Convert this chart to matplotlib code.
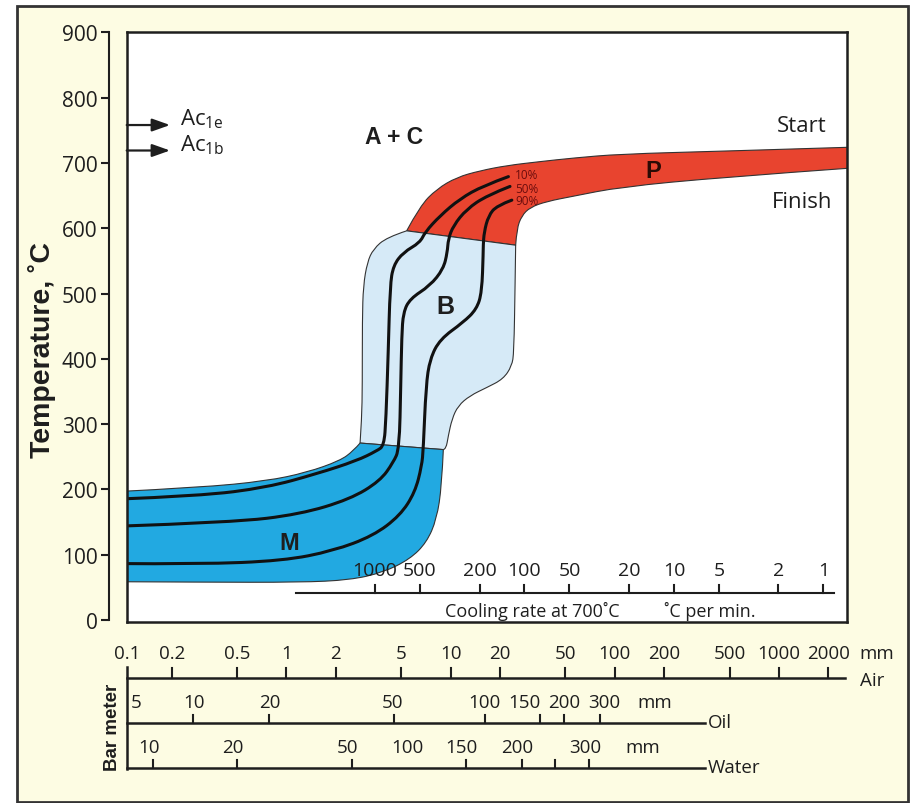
import numpy as np
import matplotlib
matplotlib.use('Agg')
import matplotlib.pyplot as plt
from matplotlib import transforms, font_manager
from matplotlib.patches import PathPatch, Rectangle
from matplotlib.path import Path
from matplotlib.ticker import NullLocator

# x = equivalent bar diameter cooled in air (mm, log scale), y = temperature (deg C)
p_start_d = [5.40, 6.51, 8.23, 10.9, 15.1, 22.0, 35.0, 55.9, 107.6, 456, 2700]
p_start_t = [596, 634, 660, 678, 688, 696, 702, 707.5, 713.6, 718, 724]
p_finish_d = [2700, 456, 107.6, 55.9, 38.5, 30.5, 27.1, 25.3, 24.9]
p_finish_t = [692, 678, 663, 649, 641, 632, 619, 599, 574]

b_right_d = [24.9, 24.7, 24.3, 23.6, 20.9, 16.6, 13.1, 11.1, 10.2, 9.68, 9.38, 9.03]
b_right_t = [574, 512, 410, 389, 369, 356, 343.5, 328, 308, 282, 262, 261]
b_left_d = [2.81, 2.875, 2.90, 2.90, 2.94, 3.11, 3.38, 4.08, 5.40]
b_left_t = [271, 308, 359, 461, 512, 548, 568, 586, 596]

m_top_d = [0.09, 0.298, 0.759, 1.33, 2.12, 2.555, 2.81]
m_top_t = [196.5, 203, 213, 226, 244, 259, 271]
m_bot_d = [9.03, 8.83, 8.23, 7.15, 5.66, 3.89, 2.44, 1.21, 0.298, 0.09]
m_bot_t = [261, 205.7, 154.7, 119, 93.4, 73, 61.3, 57.7, 58, 58.7]

# 10 %, 50 %, 90 % transformation curves
c10_d = [22.5, 15.8, 11.4, 8.62, 6.99, 6.51, 5.15, 4.48, 4.28, 4.17, 4.04, 3.93, 3.55, 2.68, 1.53, 0.76, 0.298, 0.09]
c10_t = [679, 665, 645, 619, 594, 578, 563, 543, 512, 410, 308, 267, 259, 244, 224, 203, 190, 185]
c50_d = [23.0, 16.6, 12.5, 10.4, 9.68, 9.55, 9.03, 7.49, 5.66, 5.15, 5.04, 4.97, 4.87, 4.48, 3.72, 2.44, 1.21, 0.475, 0.09]
c50_t = [664, 650, 629, 604, 583.5, 563, 537.5, 512, 492, 471, 435, 359, 262, 241.5, 213, 185, 162, 149.6, 143.5]
c90_d = [23.6, 19.1, 17.0, 16.0, 15.8, 15.8, 15.5, 14.4, 11.95, 8.62, 7.49, 7.08, 6.82, 6.67, 6.07, 4.92, 3.38, 1.93, 0.957, 0.298, 0.09]
c90_t = [643, 634.5, 619, 594, 573, 563, 502, 476, 456, 430, 400, 359, 262, 236, 195.6, 160, 129, 106, 90.8, 85.5, 86.5]
pct_labels = ['10%', '50%', '90%']
pct_label_t = [681.5, 661, 642]

ac1e_t = 758
ac1b_t = 719

cooling_rates = [1000, 500, 200, 100, 50, 20, 10, 5, 2, 1]

air_mm = [0.1, 0.2, 0.5, 1, 2, 5, 10, 20, 50, 100, 200, 500, 1000, 2000]
# oil / water bar diameters and the air bar diameter with the same cooling rate
oil_mm = [5, 10, 20, 50, 100, 150, 200, 300]
oil_air_mm = [0.121, 0.269, 0.787, 4.54, 16.3, 35.2, 48.9, 81.2]
oil_label_air_mm = [0.121, 0.274, 0.79, 4.45, 16.1, 28.0, 49.0, 85.9]
water_mm = [10, 20, 50, 100, 150, 200, 250, 300]
water_air_mm = [0.155, 0.498, 2.50, 5.82, 12.4, 27.1, 43.2, 69.6]
water_labelled = [10, 20, 50, 100, 150, 200, 300]
water_ticked = [10, 20, 50, 150, 200, 250, 300]


def rate_to_air(rate):
    return 10 ** (3.27 - 0.91 * np.log10(rate))


def smooth_edge(xs, ys):
    # quadratic b-spline through the read points (midpoints taken in log-x)
    verts, codes = [], []
    n = len(xs)
    if n == 2:
        return [(xs[1], ys[1])], [Path.LINETO]
    for i in range(1, n - 1):
        if i == n - 2:
            end = (xs[i + 1], ys[i + 1])
        else:
            end = (np.sqrt(xs[i] * xs[i + 1]), (ys[i] + ys[i + 1]) / 2)
        verts += [(xs[i], ys[i]), end]
        codes += [Path.CURVE3, Path.CURVE3]
    return verts, codes


def smooth_path(xs, ys):
    v, c = smooth_edge(xs, ys)
    return Path([(xs[0], ys[0])] + v, [Path.MOVETO] + c)


def region_path(edges):
    verts = [(edges[0][0][0], edges[0][1][0])]
    codes = [Path.MOVETO]
    for xs, ys in edges:
        if (xs[0], ys[0]) != verts[-1]:
            verts.append((xs[0], ys[0]))
            codes.append(Path.LINETO)
        v, c = smooth_edge(xs, ys)
        verts += v
        codes += c
    verts.append(verts[0])
    codes.append(Path.CLOSEPOLY)
    return Path(verts, codes)


RED = '#e8442f'
LBLUE = '#d6eaf7'
BLUE = '#22a9e1'
BG = '#fdfce3'
EDGE = '#333333'
DARK = '#1e1e1e'

names = {f.name for f in font_manager.fontManager.ttflist}
COND = 'Liberation Sans Narrow' if 'Liberation Sans Narrow' in names else 'Liberation Sans'
plt.rcParams['font.family'] = ['Open Sans', 'DejaVu Sans']

W, H = 913, 804
fig = plt.figure(figsize=(W / 100, H / 100), dpi=100)
fig.patch.set_facecolor('white')
fig.add_artist(Rectangle((17 / W, 1 / H), 891 / W, 796 / H, transform=fig.transFigure,
                         facecolor=BG, edgecolor=EDGE, lw=2, zorder=-10))

ax = fig.add_axes([126.7 / W, 1 - 623 / H, 720 / W, 589.7 / H])
ax.set_facecolor('white')
ax.set_xscale('log')
XMIN, XMAX = 0.1065, 2584
ax.set_xlim(XMIN, XMAX)
ax.set_ylim(-3, 900)
ax.xaxis.set_major_locator(NullLocator())
ax.xaxis.set_minor_locator(NullLocator())

for s in ['top', 'right', 'bottom']:
    ax.spines[s].set_linewidth(1.8)
    ax.spines[s].set_color(DARK)
ax.spines['left'].set_position(('outward', 13))
ax.spines['left'].set_bounds(0, 900)
ax.spines['left'].set_linewidth(1.5)
ax.spines['left'].set_color(DARK)
ax.axvline(XMIN, color=DARK, lw=1.8, clip_on=False, zorder=5)
ax.set_yticks(range(0, 901, 100))
ax.tick_params(axis='y', direction='out', length=6, width=1.5, labelsize=15, pad=2, colors=DARK)

# phase fields
p_path = region_path([(p_start_d, p_start_t), (p_finish_d, p_finish_t)])
ax.add_patch(PathPatch(p_path, facecolor=RED, edgecolor=EDGE, lw=0.8, zorder=2))
b_path = region_path([(b_right_d, b_right_t), (b_left_d, b_left_t)])
ax.add_patch(PathPatch(b_path, facecolor=LBLUE, edgecolor=EDGE, lw=0.8, zorder=2))
m_path = region_path([(m_top_d, m_top_t), (m_bot_d, m_bot_t)])
ax.add_patch(PathPatch(m_path, facecolor=BLUE, edgecolor=EDGE, lw=0.8, zorder=2))

for cd, ct in [(c10_d, c10_t), (c50_d, c50_t), (c90_d, c90_t)]:
    ax.add_patch(PathPatch(smooth_path(cd, ct), facecolor='none', edgecolor='#111111',
                           lw=2.2, capstyle='round', joinstyle='round', zorder=3))
for lab, t in zip(pct_labels, pct_label_t):
    ax.text(24.7, t, lab, fontsize=8.5, color='#6b0d0d', ha='left', va='center', zorder=4)

# labels
ax.text(4.52, 741, 'A + C', fontsize=16.5, fontweight='bold', family='Liberation Sans',
        ha='center', va='center', color=DARK)
ax.text(9.25, 481, 'B', fontsize=18, fontweight='bold', family='Liberation Sans',
        ha='center', va='center', color=DARK, zorder=4)
ax.text(1.037, 118, 'M', fontsize=17, fontweight='bold', family='Liberation Sans',
        ha='center', va='center', color=DARK, zorder=4)
ax.text(171, 689, 'P', fontsize=17, fontweight='bold', family='Liberation Sans',
        ha='center', va='center', color='#2a0a05', zorder=4)
ax.text(1961, 758, 'Start', fontsize=16, ha='right', va='center', color=DARK)
ax.text(2103, 641.6, 'Finish', fontsize=16, ha='right', va='center', color=DARK)

for t, lab in [(ac1e_t, 'Ac$_\\mathregular{1e}$'), (ac1b_t, 'Ac$_\\mathregular{1b}$')]:
    ax.annotate('', xy=(0.1955, t), xytext=(XMIN, t),
                arrowprops=dict(arrowstyle='-|>,head_length=0.9,head_width=0.32',
                                mutation_scale=12, color=DARK, lw=1.6, shrinkA=0, shrinkB=0))
    ax.text(0.224, t + 10, lab, fontsize=16, ha='left', va='center', color=DARK)

# cooling rate scale inside the diagram
ax.plot([rate_to_air(3400), rate_to_air(0.85)], [41, 41], color=DARK, lw=1.5, zorder=4)
for r in cooling_rates:
    x = rate_to_air(r)
    ax.plot([x, x], [41, 53], color=DARK, lw=1.5, zorder=4)
    ax.text(x, 76, str(r), fontsize=14, ha='center', va='center', color=DARK, zorder=5)
ax.text(9.25, 15, 'Cooling rate at 700˚C', fontsize=13, ha='left', va='center', color=DARK)
ax.text(199, 15, '˚C per min.', fontsize=13, ha='left', va='center', color=DARK)

# bar meter scales below the diagram
tr = transforms.blended_transform_factory(ax.transData, fig.transFigure)


def fy(py):
    return 1 - py / H


kw = dict(transform=tr, clip_on=False, color=DARK)
ax.plot([XMIN, XMIN], [fy(668), fy(770)], lw=1.8, **kw)
# air
ax.plot([XMIN, 2523], [fy(679), fy(679)], lw=1.8, **kw)
for v in air_mm[1:]:
    ax.plot([v, v], [fy(679), fy(669)], lw=1.5, **kw)
for v in air_mm:
    x = XMIN if v == 0.1 else v
    ax.text(x, fy(654), f'{v:g}', fontsize=13.5, ha='center', va='center', transform=tr, color=DARK)
ax.text(3954, fy(654), 'mm', fontsize=13.5, ha='center', va='center', transform=tr, color=DARK)
ax.text(3114, fy(681), 'Air', fontsize=13.5, ha='left', va='center', transform=tr, color=DARK)
# oil
ax.plot([XMIN, 354], [fy(724), fy(724)], lw=1.8, **kw)
for v, d, dl in zip(oil_mm, oil_air_mm, oil_label_air_mm):
    if v > 5:
        ax.plot([d, d], [fy(724), fy(716)], lw=1.5, **kw)
    ax.text(dl, fy(703), str(v), fontsize=13.5, ha='center', va='center', transform=tr, color=DARK)
ax.text(175, fy(703), 'mm', fontsize=13.5, ha='center', va='center', transform=tr, color=DARK)
ax.text(369, fy(723), 'Oil', fontsize=13.5, ha='left', va='center', transform=tr, color=DARK)
# water
ax.plot([XMIN, 354], [fy(769), fy(769)], lw=1.8, **kw)
for v, d in zip(water_mm, water_air_mm):
    if v in water_ticked:
        ax.plot([d, d], [fy(769), fy(761)], lw=1.5, **kw)
    if v in water_labelled:
        ax.annotate(str(v), (d, fy(748)), xycoords=tr, xytext=(-3, 0), textcoords='offset points',
                    fontsize=13.5, ha='center', va='center', color=DARK)
ax.text(148.5, fy(748), 'mm', fontsize=13.5, ha='center', va='center', transform=tr, color=DARK)
ax.text(369, fy(768), 'Water', fontsize=13.5, ha='left', va='center', transform=tr, color=DARK)

fig.text(112 / W, fy(727), 'Bar meter', rotation=90, fontsize=13.5, fontweight='bold',
         family='Liberation Sans', ha='center', va='center', color=DARK)
fig.text(42 / W, fy(350), 'Temperature, ˚C', rotation=90, fontsize=20.5, fontweight='bold',
         family=COND, ha='center', va='center', color=DARK)

fig.savefig('out.png', dpi=100, facecolor=fig.get_facecolor())
